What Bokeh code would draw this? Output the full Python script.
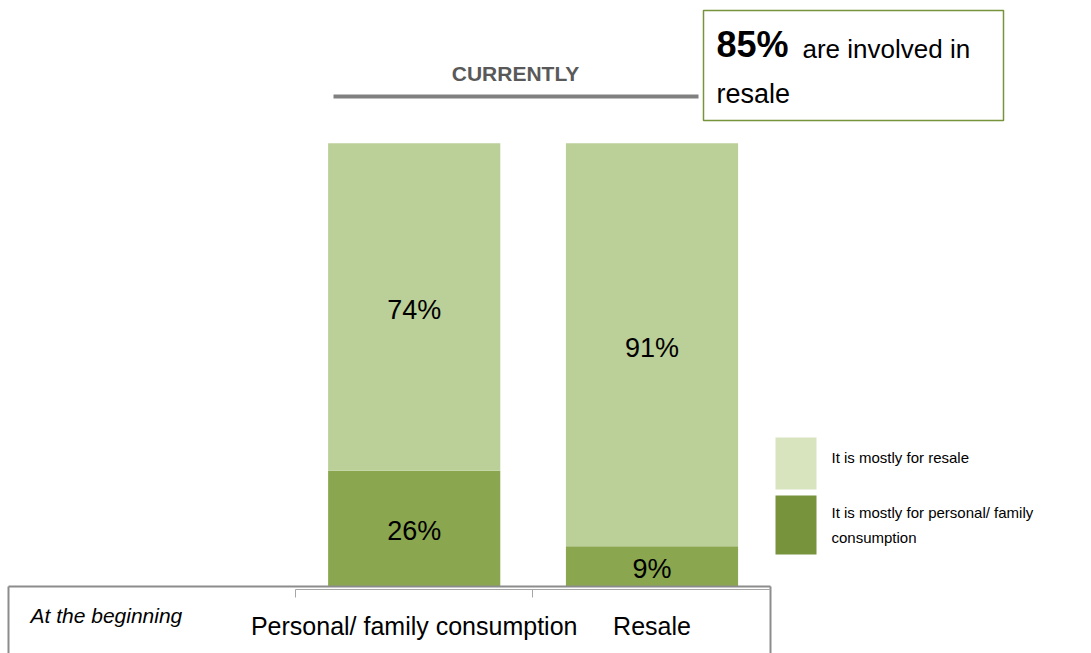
from bokeh.plotting import figure
from bokeh.models import Range1d, Label, ColumnDataSource
from bokeh.core.properties import value
from bokeh.embed import file_html
from bokeh.resources import INLINE

# ---- data ----
categories = ["Personal/ family consumption", "Resale"]
personal = [26, 9]          # It is mostly for personal/ family consumption
resale = [74, 91]           # It is mostly for resale
series_names = ["It is mostly for resale",
                "It is mostly for personal/ family\nconsumption"]
bar_colors = {"resale": "#BBCF98", "personal": "#8AA64F"}
legend_colors = {"resale": "#D7E4BD", "personal": "#77933C"}
highlight_value = "85%"

FONT = "Liberation Sans"
W, H = 1091, 653

# pixel geometry of the frame
x0_px, step_px = 413.7, 237.8
base_px, top_px = 585.5, 142.7
ppu = (base_px - top_px) / 100.0
x_start = -x0_px / step_px
x_end = (W - x0_px) / step_px
y_start = -(H - base_px) / ppu
y_end = 100 + top_px / ppu


def px_x(px):
    return x_start + px / step_px


def px_y(py):
    return y_start + (H - py) / ppu


p = figure(width=W, height=H, x_range=Range1d(x_start, x_end),
           y_range=Range1d(y_start, y_end), output_backend="svg",
           toolbar_location=None, min_border=0, outline_line_color=None)
p.axis.visible = False
p.grid.visible = False
p.background_fill_color = "white"
p.border_fill_color = "white"

idx = list(range(len(categories)))
src = ColumnDataSource(dict(
    x=idx, personal=personal, resale=resale,
    top_all=[a + b for a, b in zip(personal, resale)],
    p_mid=[v / 2 for v in personal],
    r_mid=[a + b / 2 for a, b in zip(personal, resale)],
    p_lab=[f"{v}%" for v in personal],
    r_lab=[f"{v}%" for v in resale],
    cat=categories,
))

p.vbar(x="x", bottom=0, top="personal", width=0.724, source=src,
       fill_color=bar_colors["personal"], line_color=None)
p.vbar(x="x", bottom="personal", top="top_all", width=0.724, source=src,
       fill_color=bar_colors["resale"], line_color=None)

for ycol, tcol in (("p_mid", "p_lab"), ("r_mid", "r_lab")):
    p.text(x="x", y=ycol, text=tcol, source=src, text_align="center",
           text_baseline="middle", text_font=value(FONT),
           text_font_size="27px", text_color="#000000", y_offset=3)

# ---- bottom table ----
gray = "#8C8C8C"
p.segment(x0=[px_x(8), px_x(8), px_x(770)],
          y0=[px_y(586), px_y(586), px_y(586)],
          x1=[px_x(770), px_x(8), px_x(770)],
          y1=[px_y(586), px_y(660), px_y(660)],
          line_color=gray, line_width=2)
p.segment(x0=[px_x(295), px_x(295), px_x(532)],
          y0=[px_y(589), px_y(589), px_y(589)],
          x1=[px_x(770), px_x(295), px_x(532)],
          y1=[px_y(589), px_y(597), px_y(597)],
          line_color="#A6A6A6", line_width=1)

p.text(x="x", y=px_y(625.5), text="cat", source=src, text_align="center",
       text_baseline="middle", text_font=value(FONT), text_font_size="25px",
       text_color="#000000")
p.add_layout(Label(x=px_x(30), y=px_y(615), text="At the beginning",
                   text_font=FONT, text_font_size="21px",
                   text_font_style="italic", text_baseline="middle",
                   text_color="#000000"))

# ---- header ----
p.segment(x0=[px_x(333)], y0=[px_y(96)], x1=[px_x(698)], y1=[px_y(96)],
          line_color="#808080", line_width=4)
p.add_layout(Label(x=px_x(515), y=px_y(73), text="CURRENTLY",
                   text_font=FONT, text_font_size="21px",
                   text_font_style="bold", text_align="center",
                   text_baseline="middle", text_color="#595959"))

p.quad(left=[px_x(703)], right=[px_x(1003)], top=[px_y(10)],
       bottom=[px_y(120)], fill_color="white",
       line_color="#77933C", line_width=1.5)
p.add_layout(Label(x=px_x(716), y=px_y(44), text=highlight_value,
                   text_font=FONT, text_font_size="36px",
                   text_font_style="bold", text_baseline="alphabetic",
                   text_color="#000000"))
p.add_layout(Label(x=px_x(802), y=px_y(48), text="are involved in",
                   text_font=FONT, text_font_size="26px",
                   text_baseline="alphabetic", text_color="#000000"))
p.add_layout(Label(x=px_x(716), y=px_y(93), text="resale",
                   text_font=FONT, text_font_size="27px",
                   text_baseline="alphabetic", text_color="#000000"))

# ---- legend (drawn manually) ----
p.quad(left=[px_x(775), px_x(775)], right=[px_x(816), px_x(816)],
       top=[px_y(437), px_y(495)], bottom=[px_y(489), px_y(554)],
       fill_color=[legend_colors["resale"], legend_colors["personal"]],
       line_color=None)
legend_lines = [(series_names[0], 457)] + [
    (t, y) for t, y in zip(series_names[1].split("\n"), (512, 537))]
for txt, ypx in legend_lines:
    p.add_layout(Label(x=px_x(831), y=px_y(ypx), text=txt, text_font=FONT,
                       text_font_size="15px", text_baseline="middle",
                       text_color="#000000"))

open("out.html", "w").write(file_html(p, INLINE))
